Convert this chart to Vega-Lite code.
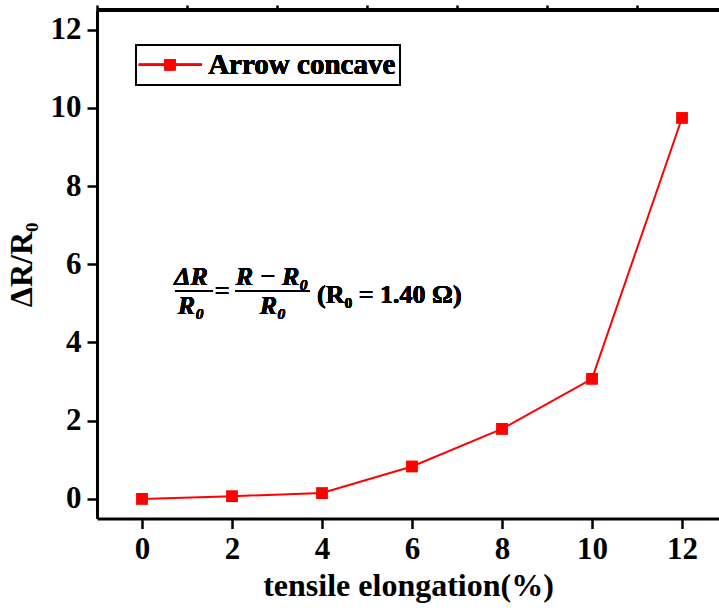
{
  "$schema": "https://vega.github.io/schema/vega-lite/v6.json",
  "autosize": "none",
  "width": 622,
  "height": 508.5,
  "padding": {"left": 97, "top": 10, "right": 0, "bottom": 94.5},
  "background": "white",
  "config": {
    "view": {"stroke": null},
    "font": "Liberation Serif",
    "axis": {"grid": false}
  },
  "data": {
    "values": [
      {"elongation": 0, "ratio": 0.0},
      {"elongation": 2, "ratio": 0.07},
      {"elongation": 4, "ratio": 0.15},
      {"elongation": 6, "ratio": 0.83},
      {"elongation": 8, "ratio": 1.79},
      {"elongation": 10, "ratio": 3.07},
      {"elongation": 12, "ratio": 9.74}
    ]
  },
  "resolve": {"axis": {"x": "independent", "y": "independent"}},
  "layer": [
    {
      "mark": {"type": "line", "color": "#ff0000", "strokeWidth": 2},
      "encoding": {
        "x": {
          "field": "elongation", "type": "quantitative",
          "scale": {"domain": [-1, 12.822], "nice": false, "zero": false},
          "axis": {
            "title": "tensile elongation(%)",
            "values": [0, 2, 4, 6, 8, 10, 12],
            "format": "d",
            "domainColor": "black", "domainWidth": 3,
            "tickColor": "black", "tickWidth": 2.5, "tickSize": 10,
            "labelFont": "Liberation Serif", "labelFontWeight": "bold", "labelFontSize": 31, "labelColor": "black",
            "labelPadding": 6, "labelFlush": false, "labelOverlap": false,
            "titleFont": "Liberation Serif", "titleFontWeight": "bold", "titleFontSize": 32, "titleColor": "black",
            "titlePadding": 6, "titleX": 311
          }
        },
        "y": {
          "field": "ratio", "type": "quantitative",
          "scale": {"domain": [-0.5, 12.5], "nice": false, "zero": false},
          "axis": {
            "title": "ΔR/R₀",
            "values": [0, 2, 4, 6, 8, 10, 12],
            "format": "d",
            "domainColor": "black", "domainWidth": 3,
            "tickColor": "black", "tickWidth": 2.5, "tickSize": 10,
            "labelFont": "Liberation Serif", "labelFontWeight": "bold", "labelFontSize": 31, "labelColor": "black",
            "labelPadding": 6, "labelFlush": false, "labelOverlap": false,
            "titleFont": "Liberation Serif", "titleFontWeight": "bold", "titleFontSize": 32, "titleColor": "black",
            "titlePadding": 12
          }
        }
      }
    },
    {
      "mark": {"type": "point", "shape": "square", "filled": true, "color": "#ff0000", "size": 140, "opacity": 1},
      "encoding": {
        "x": {"field": "elongation", "type": "quantitative", "axis": null},
        "y": {"field": "ratio", "type": "quantitative", "axis": null}
      }
    },
    {
      "mark": {"type": "point", "opacity": 0},
      "encoding": {
        "x": {
          "field": "elongation", "type": "quantitative",
          "axis": {"values": [-1, 1, 3, 5, 7, 9, 11], "labels": false, "domain": false, "title": null,
                   "tickColor": "black", "tickWidth": 2.5, "tickSize": 5}
        },
        "y": {
          "field": "ratio", "type": "quantitative",
          "axis": {"values": [1, 3, 5, 7, 9, 11], "labels": false, "domain": false, "title": null,
                   "tickColor": "black", "tickWidth": 2.5, "tickSize": 5}
        }
      }
    },
    {
      "mark": {"type": "rule", "color": "black", "strokeWidth": 3},
      "encoding": {"y": {"datum": 12.5, "type": "quantitative", "axis": null}}
    },
    {
      "mark": {"type": "rect", "fill": null, "stroke": "black", "strokeWidth": 1.5},
      "encoding": {
        "x": {"datum": -0.13, "type": "quantitative", "axis": null},
        "x2": {"datum": 5.73},
        "y": {"datum": 11.61, "type": "quantitative", "axis": null},
        "y2": {"datum": 10.59}
      }
    },
    {
      "mark": {"type": "rule", "color": "#ff0000", "strokeWidth": 2},
      "encoding": {
        "x": {"datum": -0.07, "type": "quantitative", "axis": null},
        "x2": {"datum": 1.33},
        "y": {"datum": 11.1, "type": "quantitative", "axis": null}
      }
    },
    {
      "mark": {"type": "point", "shape": "square", "filled": true, "color": "#ff0000", "size": 121, "opacity": 1},
      "encoding": {
        "x": {"datum": 0.62, "type": "quantitative", "axis": null},
        "y": {"datum": 11.1, "type": "quantitative", "axis": null}
      }
    },
    {
      "mark": {"type": "text", "text": "Arrow concave", "align": "left", "baseline": "middle", "font": "Liberation Serif", "fontWeight": "bold", "fontSize": 29, "color": "black"},
      "encoding": {
        "x": {"datum": 1.47, "type": "quantitative", "axis": null},
        "y": {"datum": 11.1, "type": "quantitative", "axis": null}
      }
    },
    {
      "mark": {"type": "rule", "color": "black", "strokeWidth": 1.5},
      "encoding": {
        "x": {"datum": 0.733, "type": "quantitative", "axis": null},
        "x2": {"datum": 1.578},
        "y": {"datum": 5.32, "type": "quantitative", "axis": null}
      }
    },
    {
      "mark": {"type": "rule", "color": "black", "strokeWidth": 1.5},
      "encoding": {
        "x": {"datum": 2.07, "type": "quantitative", "axis": null},
        "x2": {"datum": 3.73},
        "y": {"datum": 5.32, "type": "quantitative", "axis": null}
      }
    },
    {
      "mark": {"type": "text", "text": "ΔR", "align": "center", "baseline": "middle", "font": "Liberation Serif", "fontStyle": "italic", "fontWeight": "bold", "fontSize": 26, "color": "black"},
      "encoding": {
        "x": {"datum": 1.09, "type": "quantitative", "axis": null},
        "y": {"datum": 5.68, "type": "quantitative", "axis": null}
      }
    },
    {
      "mark": {"type": "text", "text": "R₀", "align": "center", "baseline": "middle", "font": "Liberation Serif", "fontStyle": "italic", "fontWeight": "bold", "fontSize": 26, "color": "black"},
      "encoding": {
        "x": {"datum": 1.09, "type": "quantitative", "axis": null},
        "y": {"datum": 4.93, "type": "quantitative", "axis": null}
      }
    },
    {
      "mark": {"type": "text", "text": "=", "align": "center", "baseline": "middle", "font": "Liberation Serif", "fontWeight": "bold", "fontSize": 26, "color": "black"},
      "encoding": {
        "x": {"datum": 1.78, "type": "quantitative", "axis": null},
        "y": {"datum": 5.32, "type": "quantitative", "axis": null}
      }
    },
    {
      "mark": {"type": "text", "text": "R − R₀", "align": "center", "baseline": "middle", "font": "Liberation Serif", "fontStyle": "italic", "fontWeight": "bold", "fontSize": 26, "color": "black"},
      "encoding": {
        "x": {"datum": 2.89, "type": "quantitative", "axis": null},
        "y": {"datum": 5.68, "type": "quantitative", "axis": null}
      }
    },
    {
      "mark": {"type": "text", "text": "R₀", "align": "center", "baseline": "middle", "font": "Liberation Serif", "fontStyle": "italic", "fontWeight": "bold", "fontSize": 26, "color": "black"},
      "encoding": {
        "x": {"datum": 2.91, "type": "quantitative", "axis": null},
        "y": {"datum": 4.93, "type": "quantitative", "axis": null}
      }
    },
    {
      "mark": {"type": "text", "text": "(R₀ = 1.40 Ω)", "align": "left", "baseline": "middle", "font": "Liberation Serif", "fontWeight": "bold", "fontSize": 26, "color": "black"},
      "encoding": {
        "x": {"datum": 3.89, "type": "quantitative", "axis": null},
        "y": {"datum": 5.22, "type": "quantitative", "axis": null}
      }
    }
  ]
}
